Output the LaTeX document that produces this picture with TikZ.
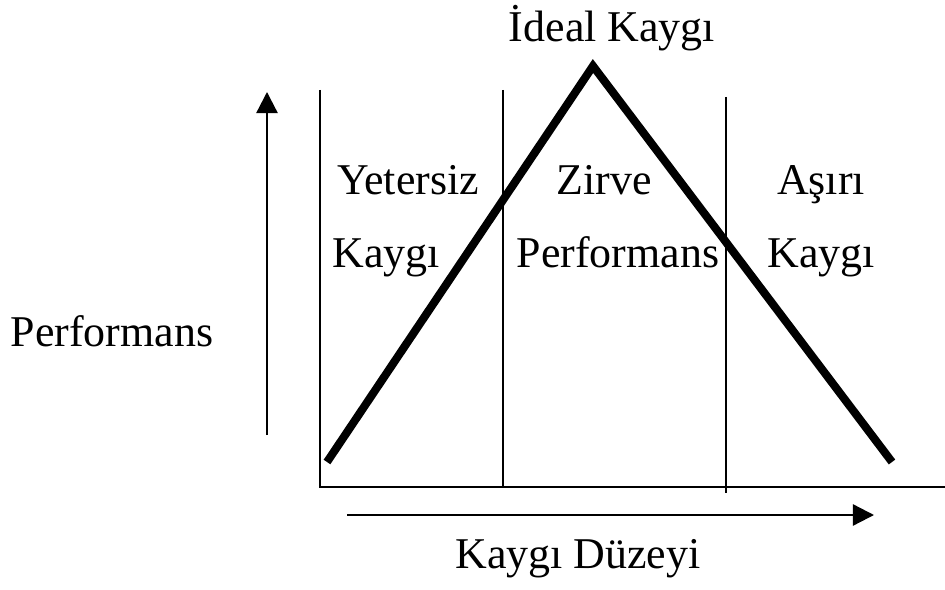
\documentclass[tikz,border=0pt]{standalone}
\usepackage{fontspec}
\setmainfont{Liberation Serif}
\usetikzlibrary{positioning, arrows.meta}
\tikzset{
  lbl/.style={inner sep=0pt, anchor=base, font=\fontsize{25}{30}\selectfont},
  thin line/.style={line width=1.1pt},
  peak/.style={line width=4.6pt, line cap=butt, line join=miter},
  axisarrow/.style={line width=1.3pt, -{Triangle[length=12pt, width=12pt]}}}

\begin{document}
\begin{tikzpicture}[x=0.02cm, y=-0.02cm]
	\useasboundingbox (0,0) rectangle (945,590);
	\coordinate (o) at (320,487);
	\coordinate (ytop) at (320,90);
	\coordinate (xend) at (945,487);
	\coordinate (m1b) at (503,487);
	\coordinate (m1t) at (503,90);
	\coordinate (m2b) at (726,493);
	\coordinate (m2t) at (726,97);
	\coordinate (l) at (327,462);
	\coordinate (p) at (593,66);
	\coordinate (r) at (892,462);
	\coordinate (ua) at (267,435);
	\coordinate (ub) at (267,92);
	\coordinate (ra) at (347,515);
	\coordinate (rb) at (874,515);
\draw [thin line] (ytop) -- (o) -- (xend);
\draw [thin line] (m1t) -- (m1b);\draw [thin line] (m2t) -- (m2b);
\draw [peak] (l) -- (p) -- (r);
\draw [axisarrow] (ua) -- (ub);\draw [axisarrow] (ra) -- (rb);
\node [lbl] (ideal) at (612,42) {İdeal Kaygı};
\node [lbl] (perf) at (112,347) {Performans};
\node [lbl] (xlab) at (578,568) {Kaygı Düzeyi};
\node [lbl] (yet) at (408,195) {Yetersiz};
\node [lbl] (yetk) at (386,268) {Kaygı};
\node [lbl] (zir) at (604,195) {Zirve};
\node [lbl] (zirp) at (618,268) {Performans};
\node [lbl] (asi) at (821,195) {Aşırı};
\node [lbl] (asik) at (821,268) {Kaygı};
\end{tikzpicture}
\end{document}
